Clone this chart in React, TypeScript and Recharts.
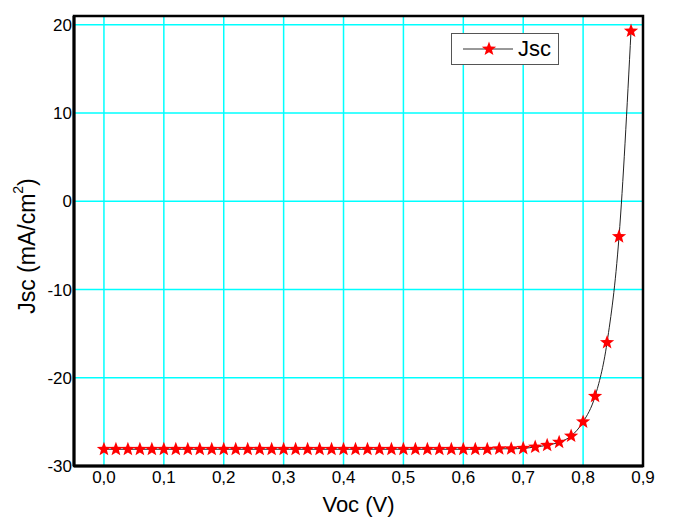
import React from 'react';
import { LineChart, Line, XAxis, YAxis, CartesianGrid, Legend, ReferenceArea } from 'recharts';

const voc = [
  0, 0.02, 0.04, 0.06, 0.08, 0.1, 0.12, 0.14, 0.16, 0.18, 0.2, 0.22, 0.24, 0.26, 0.28, 0.3,
  0.32, 0.34, 0.36, 0.38, 0.4, 0.42, 0.44, 0.46, 0.48, 0.5, 0.52, 0.54, 0.56, 0.58, 0.6,
  0.62, 0.64, 0.66, 0.68, 0.7, 0.72, 0.74, 0.76, 0.78, 0.8, 0.82, 0.84, 0.86, 0.88,
];
const jsc = [
  -28.1, -28.1, -28.1, -28.1, -28.1, -28.1, -28.1, -28.1, -28.1, -28.1, -28.1, -28.1, -28.1,
  -28.1, -28.1, -28.1, -28.1, -28.1, -28.1, -28.1, -28.1, -28.1, -28.1, -28.1, -28.1, -28.1,
  -28.1, -28.1, -28.1, -28.1, -28.1, -28.1, -28.1, -28.05, -28.05, -28.0, -27.85, -27.65,
  -27.3, -26.6, -25.0, -22.1, -16.0, -4.0, 19.3,
];
const xTicks = [0, 0.1, 0.2, 0.3, 0.4, 0.5, 0.6, 0.7, 0.8, 0.9];
const yTicks = [-30, -20, -10, 0, 10, 20];

const chartData = voc.map((v, i) => ({ voc: v, jsc: jsc[i] }));

const FONT = '"Liberation Sans", Arial, sans-serif';

function starPoints(cx: number, cy: number, r: number) {
  const pts: string[] = [];
  for (let i = 0; i < 10; i++) {
    const rad = i % 2 === 0 ? r : r * 0.42;
    const a = -Math.PI / 2 + (i * Math.PI) / 5;
    pts.push(`${cx + rad * Math.cos(a)},${cy + rad * Math.sin(a)}`);
  }
  return pts.join(' ');
}

const StarDot = (props: any) => {
  const { cx, cy } = props;
  if (cx == null || cy == null) return null;
  return <polygon points={starPoints(cx, cy, 7.5)} fill="#FF0000" stroke="none" />;
};

const formatTick = (v: number) => v.toFixed(1).replace('.', ',');

const LegendBox = () => (
  <div
    style={{
      position: 'absolute',
      left: 451,
      top: 33,
      width: 106,
      height: 30,
      border: '1.5px solid #555',
      background: '#fff',
      display: 'flex',
      alignItems: 'center',
      fontFamily: FONT,
    }}
  >
    <svg width={62} height={30}>
      <line x1={11} y1={15} x2={61} y2={15} stroke="#333" strokeWidth={1} />
      <polygon points={starPoints(37, 15, 7.5)} fill="#FF0000" />
    </svg>
    <span style={{ fontSize: 22, color: '#000', marginLeft: 4 }}>Jsc</span>
  </div>
);

const YLabel = () => (
  <g>
    <text
      x={0}
      y={0}
      transform="translate(27 246) rotate(-90)"
      textAnchor="middle"
      dominantBaseline="central"
      fill="#000"
      style={{ fontSize: 23, fontFamily: FONT }}
    >
      Jsc (mA/cm
      <tspan style={{ fontSize: 14 }} dy={-9}>2</tspan>
      <tspan dy={9}>)</tspan>
    </text>
  </g>
);

export default function App() {
  return (
    <div style={{ position: 'absolute', left: 0, top: 0, width: 674, height: 519, background: '#fff' }}>
      <LineChart
        width={674}
        height={519}
        data={chartData}
        margin={{ top: 16, right: 31, bottom: 0, left: 0 }}
      >
        <CartesianGrid stroke="#00FFFF" strokeWidth={1.5} horizontalValues={yTicks} verticalValues={xTicks} />
        <ReferenceArea
          x1={-0.05}
          x2={0.9}
          y1={-30}
          y2={21}
          fill="none"
          stroke="#000"
          strokeWidth={2.5}
          ifOverflow="visible"
        />
        <XAxis
          dataKey="voc"
          type="number"
          domain={[-0.05, 0.9]}
          ticks={xTicks}
          tickFormatter={formatTick}
          height={53}
          tickSize={0}
          tickMargin={5}
          tickLine={false}
          axisLine={{ stroke: '#000', strokeWidth: 3 }}
          tick={{ fill: '#000', fontSize: 17, fontFamily: FONT }}
          label={{
            value: 'Voc (V)',
            position: 'insideBottom',
            offset: 7,
            fill: '#000',
            fontSize: 22,
            fontFamily: FONT,
          }}
        />
        <YAxis
          type="number"
          domain={[-30, 21]}
          ticks={yTicks}
          width={74}
          tickSize={0}
          tickMargin={2}
          tickLine={false}
          axisLine={{ stroke: '#000', strokeWidth: 3 }}
          tick={{ fill: '#000', fontSize: 17, fontFamily: FONT }}
          label={<YLabel />}
        />
        <Legend
          layout="horizontal"
          verticalAlign="middle"
          align="center"
          wrapperStyle={{ left: 0, top: 0, width: 674, height: 0 }}
          content={<LegendBox />}
        />
        <Line
          type="monotone"
          dataKey="jsc"
          name="Jsc"
          stroke="#222"
          strokeWidth={1}
          dot={<StarDot />}
          activeDot={false}
          isAnimationActive={false}
        />
      </LineChart>
    </div>
  );
}
